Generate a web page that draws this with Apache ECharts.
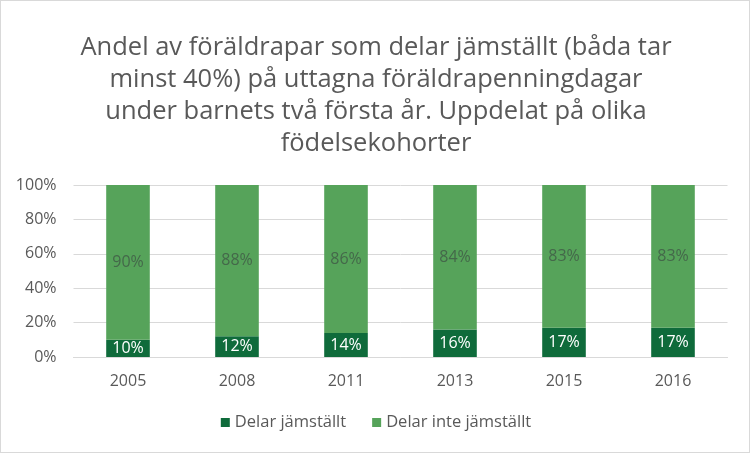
<!DOCTYPE html>
<html>
<head>
<meta charset="utf-8">
<script src="https://cdn.jsdelivr.net/npm/echarts@6/dist/echarts.min.js"></script>
<style>
html,body{margin:0;padding:0;background:#fff;}
#frame{position:absolute;left:0;top:0;width:748px;height:451px;border:1px solid #d9d9d9;}
#chart{position:absolute;left:0;top:0;width:752px;height:455px;}
</style>
</head>
<body>
<div id="frame"></div>
<div id="chart"></div>
<script>
const categories = ['2005','2008','2011','2013','2015','2016'];
const delarJamstallt = [10, 12, 14, 16, 17, 17];
const delarInteJamstallt = [90, 88, 86, 84, 83, 83];
const yTicks = [0, 20, 40, 60, 80, 100];
const titleLines = [
  'Andel av föräldrapar som delar jämställt (båda tar',
  'minst 40%) på uttagna föräldrapenningdagar',
  'under barnets två första år. Uppdelat på olika',
  'födelsekohorter'
];

const FONT = 'Open Sans';
const chart = echarts.init(document.getElementById('chart'));
chart.setOption({
  animation: false,
  title: {
    text: titleLines.join('\n'),
    left: 'center',
    top: 27,
    textStyle: {fontFamily: FONT, fontSize: 25.5, fontWeight: 'normal', color: '#595959', lineHeight: 32}
  },
  legend: {
    bottom: 19,
    left: 'center',
    itemWidth: 9,
    itemHeight: 9,
    itemGap: 26,
    icon: 'rect',
    textStyle: {fontFamily: FONT, fontSize: 16.5, color: '#595959'},
    data: ['Delar jämställt', 'Delar inte jämställt']
  },
  grid: {left: 73.5, right: 24.5, top: 185, bottom: 98, containLabel: false},
  xAxis: {
    type: 'category',
    data: categories,
    axisLine: {lineStyle: {color: '#d9d9d9'}},
    axisTick: {show: false},
    axisLabel: {fontFamily: FONT, fontSize: 16, color: '#595959', margin: 16}
  },
  yAxis: {
    type: 'value',
    min: 0, max: 100, interval: 20,
    axisLine: {show: false},
    axisTick: {show: false},
    splitLine: {lineStyle: {color: '#d9d9d9'}},
    axisLabel: {fontFamily: FONT, fontSize: 16, color: '#595959', margin: 17,
      formatter: v => yTicks.includes(v) ? v + '%' : ''}
  },
  series: [
    {
      name: 'Delar jämställt', type: 'bar', stack: 'a',
      data: delarJamstallt, barCategoryGap: '60%',
      itemStyle: {color: '#0f6b3b'},
      label: {show: true, position: 'inside', formatter: '{c}%', color: '#ffffff', fontFamily: FONT, fontSize: 16}
    },
    {
      name: 'Delar inte jämställt', type: 'bar', stack: 'a',
      data: delarInteJamstallt, barCategoryGap: '60%',
      itemStyle: {color: '#56a35a'},
      label: {show: true, position: 'inside', formatter: '{c}%', color: '#44684a', fontFamily: FONT, fontSize: 16}
    }
  ]
});
</script>
</body>
</html>
